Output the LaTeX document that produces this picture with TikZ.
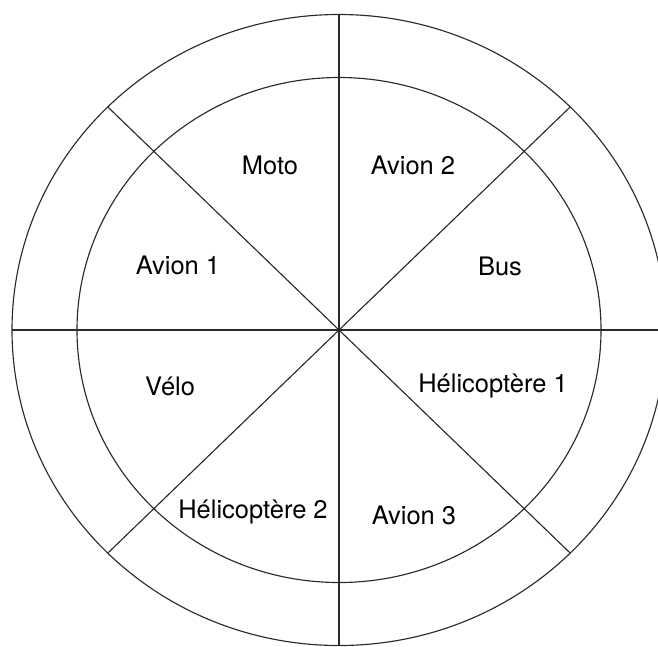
\documentclass[tikz,border=0pt]{standalone}
\usepackage{fontspec}
\setmainfont{TeX Gyre Heros}
\usepackage{tikz}
\definecolor{ink}{HTML}{2B2B2B}

\begin{document}
\begin{tikzpicture}[x=0.02cm,y=-0.02cm,
  ring/.style={draw=ink,line width=0.65pt},
  spoke/.style={draw=ink,line width=0.65pt},
  lbl/.style={font=\fontsize{14.5}{16}\selectfont,inner sep=0pt,anchor=center}]
\useasboundingbox (0,0) rectangle (658,646);
\clip (0,0) rectangle (658,646);
\coordinate (ctr) at (339,330);
% two rings
\draw[ring] (ctr) ellipse [x radius=327, y radius=315.5];
\draw[ring] (ctr) ellipse [x radius=262, y radius=252.5];
% spokes
\foreach \a in {0,45,...,315}
  \draw[spoke] (ctr) -- ++({327*cos(\a)},{315.5*sin(\a)});
% sectors
\node[lbl] (moto) at (270,165) {Moto};
\node[lbl] (avion2) at (413,165) {Avion 2};
\node[lbl] (avion1) at (178,265) {Avion 1};
\node[lbl] (bus) at (500,266) {Bus};
\node[lbl] (velo) at (170,386) {Vélo};
\node[lbl] (heli1) at (493,386) {Hélicoptère 1};
\node[lbl] (heli2) at (253,512) {Hélicoptère 2};
\node[lbl] (avion3) at (414,515) {Avion 3};
\end{tikzpicture}
\end{document}
